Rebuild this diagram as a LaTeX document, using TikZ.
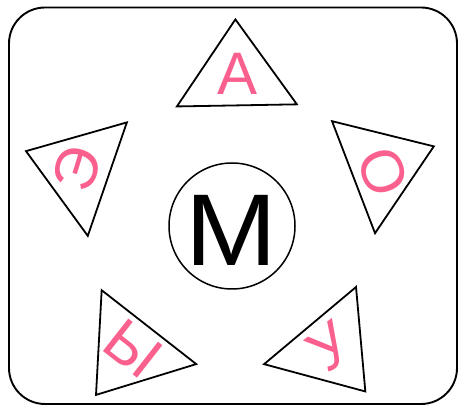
\documentclass[tikz,border=0pt]{standalone}
\usepackage{fontspec}
\setmainfont{Liberation Sans}
\definecolor{vowelpink}{RGB}{250,96,142}

\begin{document}
\begin{tikzpicture}[
    x=1pt, y=1pt,
    % Rounded card frame
    card/.style={draw=black, line width=1.9pt, rounded corners=36pt},
    % Triangle outline
    tri/.style={draw=black, line width=1.8pt, line join=miter},
    vowel tri/.pic={\draw[tri] (0,57) -- (-60,-29) -- (60,-29) -- cycle;},
    % Pink vowel letters
    vowel/.style={text=vowelpink, inner sep=0pt, font=\fontsize{60}{60}\selectfont},
    % Consonant in the middle
    consonant/.style={circle, draw=black, line width=1.5pt, minimum size=126pt, inner sep=0pt}
]
    \useasboundingbox (0,0) rectangle (458,407);

    % --- FRAME ---
    \draw[card] (9,3) rectangle (457,399.5);

    % --- CENTRE ---
    \node[consonant] (cons) at (232,181) {};
    \node[inner sep=0pt, xscale=1.08, font=\fontsize{102}{102}\selectfont] (consM) at (231,177) {М};

    % --- TOP: A ---
    \pic[rotate=1] at (236.4,330.6) {vowel tri};
    \node[vowel] (vowA) at (238,333.5) {А};

    % --- RIGHT: O ---
    \pic[rotate=-69] at (380.6,240.2) {vowel tri};
    \node[vowel, rotate=-69] (vowO) at (383,235) {О};

    % --- BOTTOM RIGHT: U ---
    \pic[rotate=-140] at (328.7,59.2) {vowel tri};
    \node[vowel, rotate=38] (vowU) at (330,60) {У};

    % --- BOTTOM LEFT: Y ---
    \pic[rotate=142] at (131.1,57) {vowel tri};
    \node[vowel, rotate=-38] (vowY) at (133,58) {Ы};

    % --- LEFT: E ---
    \pic[rotate=71] at (79.9,237.3) {vowel tri};
    \node[vowel, rotate=73] (vowE) at (77,238) {Э};

\end{tikzpicture}
\end{document}
